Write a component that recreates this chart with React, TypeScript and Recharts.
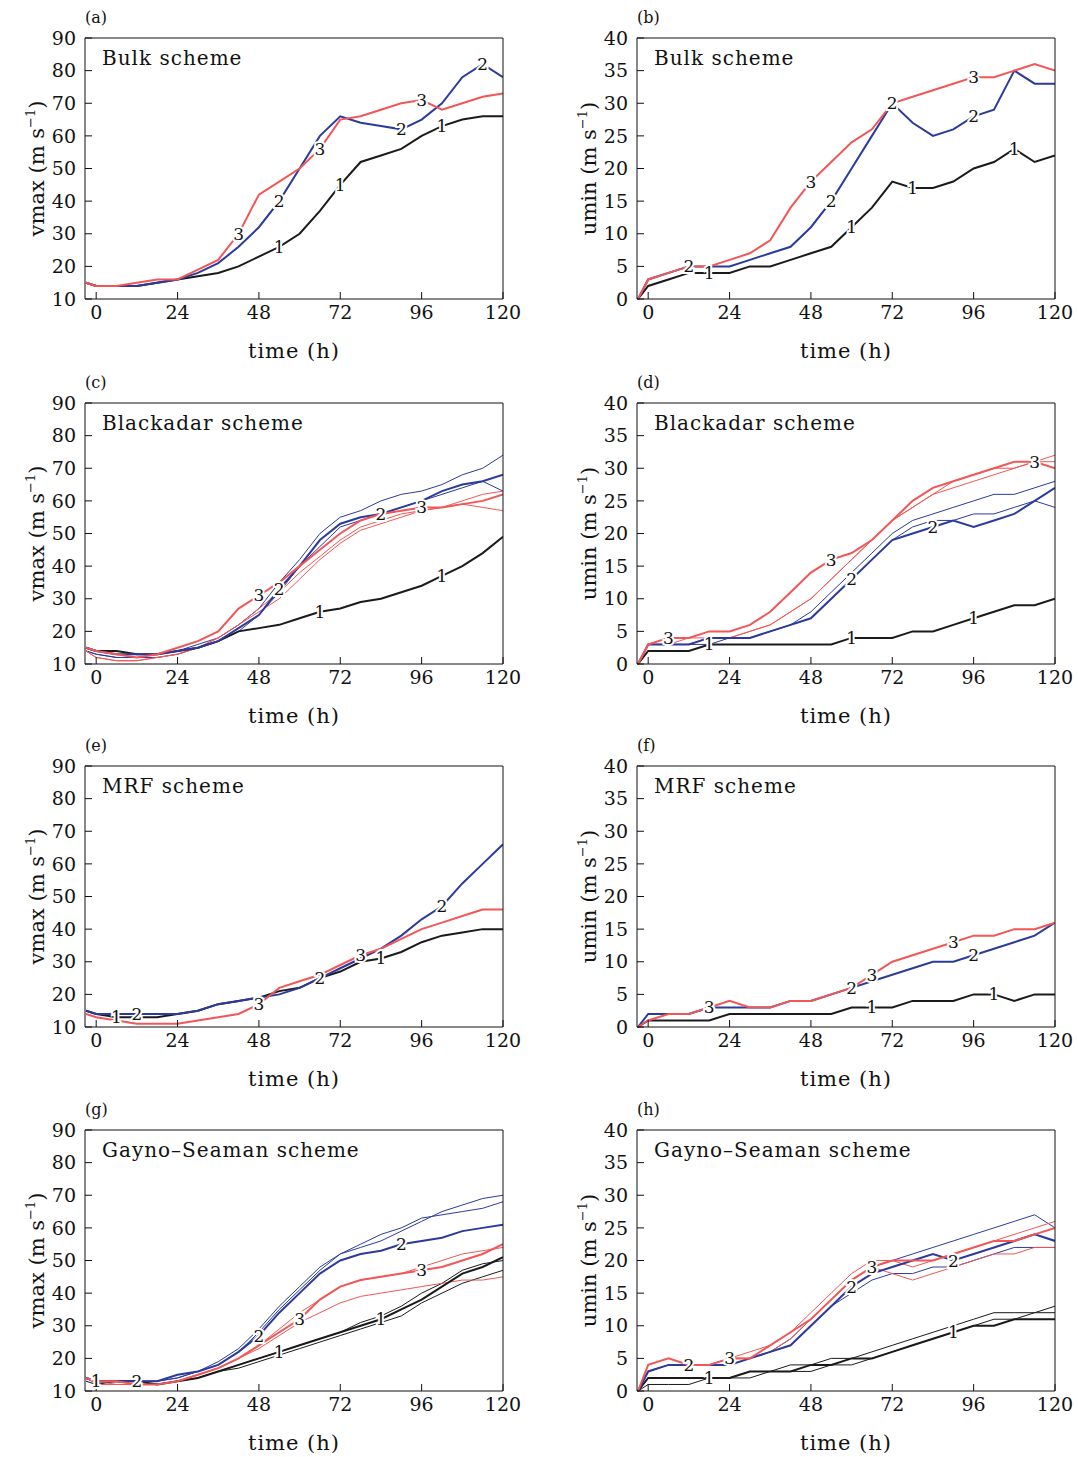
import React from "react";
import { LineChart, Line, XAxis, YAxis, LabelList } from "recharts";

// time axis: -3 h then every 6 h up to 120 h
const times = [-3, 0, 6, 12, 18, 24, 30, 36, 42, 48, 54, 60, 66, 72, 78, 84, 90, 96, 102, 108, 114, 120];
const xTicks = [0, 24, 48, 72, 96, 120];

// (a) Bulk vmax
const aBlack = [15, 14, 14, 14, 15, 16, 17, 18, 20, 23, 26, 30, 37, 45, 52, 54, 56, 60, 63, 65, 66, 66];
const aBlue = [15, 14, 14, 14, 15, 16, 18, 21, 26, 32, 40, 50, 60, 66, 64, 63, 62, 65, 70, 78, 82, 78];
const aRed = [15, 14, 14, 15, 16, 16, 19, 22, 30, 42, 46, 50, 56, 65, 66, 68, 70, 71, 68, 70, 72, 73];
// (b) Bulk umin
const bBlack = [0, 2, 3, 4, 4, 4, 5, 5, 6, 7, 8, 11, 14, 18, 17, 17, 18, 20, 21, 23, 21, 22];
const bBlue = [0, 3, 4, 5, 5, 5, 6, 7, 8, 11, 15, 20, 25, 30, 27, 25, 26, 28, 29, 35, 33, 33];
const bRed = [0, 3, 4, 5, 5, 6, 7, 9, 14, 18, 21, 24, 26, 30, 31, 32, 33, 34, 34, 35, 36, 35];
// (c) Blackadar vmax
const cBlack = [15, 14, 14, 13, 13, 14, 15, 17, 20, 21, 22, 24, 26, 27, 29, 30, 32, 34, 37, 40, 44, 49];
const cBlue = [15, 14, 13, 13, 13, 14, 15, 17, 21, 25, 33, 40, 48, 53, 55, 56, 58, 60, 63, 65, 66, 68];
const cBlue1 = [14, 13, 12, 12, 13, 14, 16, 18, 22, 27, 35, 42, 50, 55, 57, 60, 62, 63, 65, 68, 70, 74];
const cBlue2 = [14, 13, 12, 12, 12, 13, 15, 17, 20, 25, 32, 40, 46, 52, 54, 56, 58, 60, 62, 64, 66, 63];
const cRed = [15, 14, 13, 12, 13, 15, 17, 20, 27, 31, 35, 40, 45, 50, 54, 56, 57, 58, 58, 59, 60, 62];
const cRed1 = [14, 12, 11, 11, 12, 13, 15, 18, 22, 27, 32, 38, 43, 48, 52, 54, 56, 57, 58, 59, 58, 57];
const cRed2 = [14, 12, 11, 11, 12, 13, 15, 18, 22, 26, 30, 36, 42, 47, 51, 53, 55, 57, 58, 60, 62, 63];
// (d) Blackadar umin
const dBlack = [0, 2, 2, 2, 3, 3, 3, 3, 3, 3, 3, 4, 4, 4, 5, 5, 6, 7, 8, 9, 9, 10];
const dBlue = [0, 3, 3, 3, 4, 4, 4, 5, 6, 7, 10, 13, 16, 19, 20, 21, 22, 21, 22, 23, 25, 27];
const dBlue1 = [0, 3, 3, 3, 4, 4, 4, 5, 6, 8, 11, 14, 17, 20, 22, 23, 24, 25, 26, 26, 27, 28];
const dBlue2 = [0, 3, 3, 3, 3, 4, 4, 5, 6, 7, 10, 13, 16, 19, 21, 22, 22, 23, 23, 24, 25, 24];
const dRed = [0, 3, 4, 4, 5, 5, 6, 8, 11, 14, 16, 17, 19, 22, 25, 27, 28, 29, 30, 31, 31, 30];
const dRed1 = [0, 3, 3, 3, 4, 4, 5, 6, 8, 10, 13, 16, 19, 22, 24, 26, 27, 28, 29, 30, 31, 31];
const dRed2 = [0, 3, 3, 4, 4, 4, 5, 6, 8, 10, 13, 16, 19, 22, 24, 26, 28, 29, 30, 30, 31, 32];
// (e) MRF vmax
const eBlack = [15, 14, 13, 13, 13, 14, 15, 17, 18, 19, 21, 22, 25, 27, 30, 31, 33, 36, 38, 39, 40, 40];
const eBlue = [15, 14, 14, 14, 14, 14, 15, 17, 18, 19, 20, 22, 25, 28, 31, 34, 38, 43, 47, 54, 60, 66];
const eRed = [14, 13, 12, 11, 11, 11, 12, 13, 14, 17, 22, 24, 26, 29, 32, 34, 37, 40, 42, 44, 46, 46];
// (f) MRF umin
const fBlack = [0, 1, 1, 1, 1, 2, 2, 2, 2, 2, 2, 3, 3, 3, 4, 4, 4, 5, 5, 4, 5, 5];
const fBlue = [0, 2, 2, 2, 3, 3, 3, 3, 4, 4, 5, 6, 7, 8, 9, 10, 10, 11, 12, 13, 14, 16];
const fRed = [0, 1, 2, 2, 3, 4, 3, 3, 4, 4, 5, 6, 8, 10, 11, 12, 13, 14, 14, 15, 15, 16];
// (g) Gayno-Seaman vmax
const gBlack = [14, 13, 13, 13, 12, 13, 14, 16, 18, 20, 22, 24, 26, 28, 30, 32, 35, 38, 42, 46, 48, 51];
const gBlack1 = [13, 12, 13, 13, 12, 13, 14, 16, 17, 19, 21, 23, 25, 27, 29, 31, 33, 37, 40, 43, 45, 47];
const gBlack2 = [14, 13, 13, 12, 12, 13, 14, 16, 18, 20, 22, 24, 26, 28, 31, 33, 36, 40, 43, 47, 49, 50];
const gBlue = [14, 13, 13, 13, 13, 15, 16, 18, 22, 27, 34, 40, 46, 50, 52, 53, 55, 56, 57, 59, 60, 61];
const gBlue1 = [14, 13, 13, 13, 13, 14, 16, 19, 23, 29, 36, 42, 48, 52, 54, 56, 59, 62, 65, 67, 69, 70];
const gBlue2 = [14, 13, 13, 13, 13, 14, 16, 18, 22, 28, 35, 41, 47, 52, 55, 58, 60, 63, 64, 65, 66, 68];
const gRed = [14, 13, 13, 12, 12, 13, 15, 17, 20, 24, 28, 32, 38, 42, 44, 45, 46, 47, 48, 50, 52, 55];
const gRed1 = [14, 13, 12, 12, 12, 13, 15, 17, 20, 23, 27, 31, 34, 37, 39, 40, 41, 42, 43, 44, 44, 45];
const gRed2 = [14, 12, 12, 12, 12, 13, 15, 17, 20, 24, 29, 34, 38, 42, 44, 45, 46, 48, 50, 52, 53, 54];
// (h) Gayno-Seaman umin
const hBlack = [0, 2, 2, 2, 2, 2, 3, 3, 3, 4, 4, 5, 5, 6, 7, 8, 9, 10, 10, 11, 11, 11];
const hBlack1 = [0, 1, 1, 1, 2, 2, 2, 3, 3, 3, 4, 4, 5, 6, 7, 8, 9, 10, 11, 11, 12, 13];
const hBlack2 = [0, 2, 2, 2, 2, 2, 3, 3, 4, 4, 5, 5, 6, 7, 8, 9, 10, 11, 12, 12, 12, 12];
const hBlue = [0, 3, 4, 4, 4, 4, 5, 6, 7, 10, 13, 16, 18, 19, 20, 21, 20, 21, 22, 23, 24, 23];
const hBlue1 = [0, 3, 4, 4, 4, 5, 5, 6, 8, 11, 14, 17, 19, 20, 21, 22, 23, 24, 25, 26, 27, 25];
const hBlue2 = [0, 3, 4, 4, 4, 4, 5, 6, 7, 10, 13, 15, 17, 18, 18, 19, 19, 20, 21, 22, 22, 22];
const hRed = [0, 4, 5, 4, 4, 5, 5, 7, 9, 11, 14, 17, 19, 20, 20, 20, 21, 22, 23, 23, 24, 25];
const hRed1 = [0, 3, 4, 4, 4, 5, 5, 6, 8, 11, 14, 17, 19, 18, 17, 18, 19, 20, 21, 21, 22, 22];
const hRed2 = [0, 3, 4, 4, 4, 5, 6, 7, 9, 12, 15, 18, 20, 20, 19, 20, 21, 22, 23, 24, 25, 26];

const BLACK = "#1a1a1a";
const BLUE = "#2b3a9e";
const RED = "#f25656";

type S = { v: number[]; color: string; w: number; tag?: string; at?: number[] };

const thin = (v: number[], color: string): S => ({ v, color, w: 1 });

type P = {
  id: string; title: string; y: "vmax" | "umin"; col: 0 | 1; row: number; series: S[];
};

const panels: P[] = [
  { id: "(a)", title: "Bulk scheme", y: "vmax", col: 0, row: 0, series: [
    { v: aBlack, color: BLACK, w: 2, tag: "1", at: [10, 13, 18] },
    { v: aBlue, color: BLUE, w: 2, tag: "2", at: [10, 16, 20] },
    { v: aRed, color: RED, w: 2, tag: "3", at: [8, 12, 17] } ] },
  { id: "(b)", title: "Bulk scheme", y: "umin", col: 1, row: 0, series: [
    { v: bBlack, color: BLACK, w: 2, tag: "1", at: [4, 11, 14, 19] },
    { v: bBlue, color: BLUE, w: 2, tag: "2", at: [3, 10, 13, 17] },
    { v: bRed, color: RED, w: 2, tag: "3", at: [9, 17] } ] },
  { id: "(c)", title: "Blackadar scheme", y: "vmax", col: 0, row: 1, series: [
    thin(cBlue1, BLUE), thin(cBlue2, BLUE), thin(cRed1, RED), thin(cRed2, RED),
    { v: cBlack, color: BLACK, w: 2, tag: "1", at: [12, 18] },
    { v: cBlue, color: BLUE, w: 2, tag: "2", at: [10, 15] },
    { v: cRed, color: RED, w: 2, tag: "3", at: [9, 17] } ] },
  { id: "(d)", title: "Blackadar scheme", y: "umin", col: 1, row: 1, series: [
    thin(dBlue1, BLUE), thin(dBlue2, BLUE), thin(dRed1, RED), thin(dRed2, RED),
    { v: dBlack, color: BLACK, w: 2, tag: "1", at: [4, 11, 17] },
    { v: dBlue, color: BLUE, w: 2, tag: "2", at: [11, 15] },
    { v: dRed, color: RED, w: 2, tag: "3", at: [2, 10, 20] } ] },
  { id: "(e)", title: "MRF scheme", y: "vmax", col: 0, row: 2, series: [
    { v: eBlack, color: BLACK, w: 2, tag: "1", at: [2, 15] },
    { v: eBlue, color: BLUE, w: 2, tag: "2", at: [3, 12, 18] },
    { v: eRed, color: RED, w: 2, tag: "3", at: [9, 14] } ] },
  { id: "(f)", title: "MRF scheme", y: "umin", col: 1, row: 2, series: [
    { v: fBlack, color: BLACK, w: 2, tag: "1", at: [12, 18] },
    { v: fBlue, color: BLUE, w: 2, tag: "2", at: [11, 17] },
    { v: fRed, color: RED, w: 2, tag: "3", at: [4, 12, 16] } ] },
  { id: "(g)", title: "Gayno\u2013Seaman scheme", y: "vmax", col: 0, row: 3, series: [
    thin(gBlack1, BLACK), thin(gBlack2, BLACK), thin(gBlue1, BLUE), thin(gBlue2, BLUE), thin(gRed1, RED), thin(gRed2, RED),
    { v: gBlack, color: BLACK, w: 2, tag: "1", at: [1, 10, 15] },
    { v: gBlue, color: BLUE, w: 2, tag: "2", at: [3, 9, 16] },
    { v: gRed, color: RED, w: 2, tag: "3", at: [11, 17] } ] },
  { id: "(h)", title: "Gayno\u2013Seaman scheme", y: "umin", col: 1, row: 3, series: [
    thin(hBlack1, BLACK), thin(hBlack2, BLACK), thin(hBlue1, BLUE), thin(hBlue2, BLUE), thin(hRed1, RED), thin(hRed2, RED),
    { v: hBlack, color: BLACK, w: 2, tag: "1", at: [4, 16] },
    { v: hBlue, color: BLUE, w: 2, tag: "2", at: [3, 11, 16] },
    { v: hRed, color: RED, w: 2, tag: "3", at: [5, 12] } ] },
];

const FONT = "'DejaVu Serif', 'Liberation Serif', serif";
const PLOT_LEFT = [85, 637];
const PLOT_TOP = [38, 403, 766, 1130];
const PW = 418;
const PH = 260;

function Panel({ p }: { p: P }) {
  const left = PLOT_LEFT[p.col];
  const top = PLOT_TOP[p.row];
  const isV = p.y === "vmax";
  const domain = isV ? [10, 90] : [0, 40];
  const yTicks = isV ? [10, 20, 30, 40, 50, 60, 70, 80, 90] : [0, 5, 10, 15, 20, 25, 30, 35, 40];
  const data = times.map((t, i) => {
    const row: Record<string, number> = { t };
    p.series.forEach((s, k) => (row["s" + k] = s.v[i]));
    return row;
  });
  const tickStyle = { fill: "#111", fontSize: 19, fontFamily: FONT };
  return (
    <div style={{ position: "absolute", left: left - 75, top: top - 11 }}>
      <LineChart width={75 + PW + 21} height={11 + PH + 70} data={data}
        margin={{ top: 10, right: 20, left: 0, bottom: 5 }}>
        <XAxis xAxisId="b" dataKey="t" type="number" domain={[-3.3, 120]} ticks={xTicks}
          allowDataOverflow stroke="#111" tick={tickStyle} tickSize={-7} tickMargin={14} height={64}
          label={(props: any) => {
            const vb = props.viewBox;
            return (
              <text x={vb.x + vb.width / 2} y={vb.y + 59} textAnchor="middle" fontSize={21}
                fontFamily={FONT} fill="#111" letterSpacing={1}>time (h)</text>
            );
          }} />
        <XAxis xAxisId="t" orientation="top" dataKey="t" type="number" domain={[-3.3, 120]}
          ticks={xTicks} allowDataOverflow stroke="#111" tick={false} tickSize={-7} height={1} />
        <YAxis yAxisId="l" domain={domain} ticks={yTicks} stroke="#111" tick={tickStyle}
          tickSize={-7} tickMargin={16} width={75} interval={0}
          label={(props: any) => {
            const vb = props.viewBox;
            const cx = vb.x + 28;
            const cy = vb.y + vb.height / 2;
            return (
              <text transform={`translate(${cx},${cy}) rotate(-90)`} textAnchor="middle"
                fontSize={21} fontFamily={FONT} fill="#111" dy={6}>
                {p.y} (m s<tspan dy={-9} fontSize={13}>−1</tspan><tspan dy={9}>)</tspan>
              </text>
            );
          }} />
        <YAxis yAxisId="r" orientation="right" domain={domain} ticks={yTicks} stroke="#111"
          tick={false} tickSize={-7} width={1} />
        {p.series.map((s, k) => (
          <Line key={k} xAxisId="b" yAxisId="l" dataKey={"s" + k} stroke={s.color}
            strokeWidth={s.w} dot={false} isAnimationActive={false} type="linear">
            {s.tag && (
              <LabelList dataKey={"s" + k} content={(lp: any) => {
                if (!s.at || !s.at.includes(lp.index)) return null;
                return (
                  <text x={lp.x} y={lp.y + 6} textAnchor="middle" fontSize={17} fontFamily={FONT}
                    fill="#111" stroke="#fff" strokeWidth={4} paintOrder="stroke">{s.tag}</text>
                );
              }} />
            )}
          </Line>
        ))}
      </LineChart>
    </div>
  );
}

export default function App() {
  return (
    <div style={{ position: "absolute", left: 0, top: 0, width: 1078, height: 1457, background: "#fff", fontFamily: FONT }}>
      {panels.map((p) => (
        <React.Fragment key={p.id}>
          <Panel p={p} />
          <div style={{ position: "absolute", left: PLOT_LEFT[p.col], top: PLOT_TOP[p.row] - 30, fontSize: 16, color: "#111" }}>{p.id}</div>
          <div style={{ position: "absolute", left: PLOT_LEFT[p.col] + 17, top: PLOT_TOP[p.row] + 8, fontSize: 20, letterSpacing: 1, color: "#111" }}>{p.title}</div>
        </React.Fragment>
      ))}
    </div>
  );
}
